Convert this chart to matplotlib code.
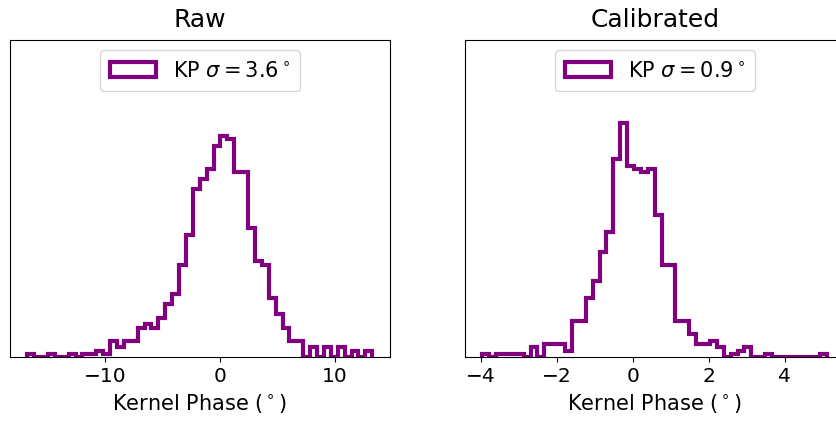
import numpy as np
import matplotlib
matplotlib.use("Agg")
import matplotlib.pyplot as plt

# ---- data ----
raw_range = (-16.77, 13.28)
raw_counts = [1, 0, 0, 1, 0, 0, 1, 0, 1, 1,
              2, 1, 5, 3, 5, 5, 9, 10, 9, 12,
              16, 19, 28, 37, 51, 54, 57, 64, 67, 66,
              56, 56, 39, 29, 28, 18, 13, 9, 5, 5,
              0, 3, 0, 3, 0, 3, 0, 2, 0, 2]
raw_label = r"KP $\sigma = 3.6^\circ$"

cal_range = (-3.965, 5.117)
cal_counts = [1, 0, 1, 1, 1, 1, 0, 3, 0, 4,
              4, 4, 2, 11, 11, 18, 23, 32, 38, 60,
              71, 58, 57, 56, 57, 43, 28, 28, 11, 11,
              7, 4, 4, 5, 3, 0, 1, 2, 3, 0,
              0, 1, 0, 0, 0, 0, 0, 0, 0, 1]
cal_label = r"KP $\sigma = 0.9^\circ$"

titles = ["Raw", "Calibrated"]
xlabel = r"Kernel Phase ($^\circ$)"
n_bins = 50
ymax = 96

fig = plt.figure(figsize=(8.36, 4.25), dpi=100)
positions = [[10/836, 0.1593, 379.5/836, 0.7466],
             [465/836, 0.1593, 379.5/836, 0.7466]]

panels = [(raw_range, raw_counts, raw_label), (cal_range, cal_counts, cal_label)]
for pos, title, (rng, counts, label) in zip(positions, titles, panels):
    ax = fig.add_axes(pos)
    edges = np.linspace(rng[0], rng[1], n_bins + 1)
    centers = 0.5 * (edges[:-1] + edges[1:])
    ax.hist(centers, bins=edges, weights=counts, histtype='step',
            color='purple', linewidth=3, label=label)
    ax.set_ylim(0, ymax)
    ax.set_yticks([])
    ax.set_title(title, fontsize=18, pad=9)
    ax.set_xlabel(xlabel, fontsize=15)
    ax.tick_params(axis='x', labelsize=14.5)
    ax.legend(loc='upper center', fontsize=15, borderpad=0.5, handlelength=2.2)

fig.savefig("out.png", dpi=100)
